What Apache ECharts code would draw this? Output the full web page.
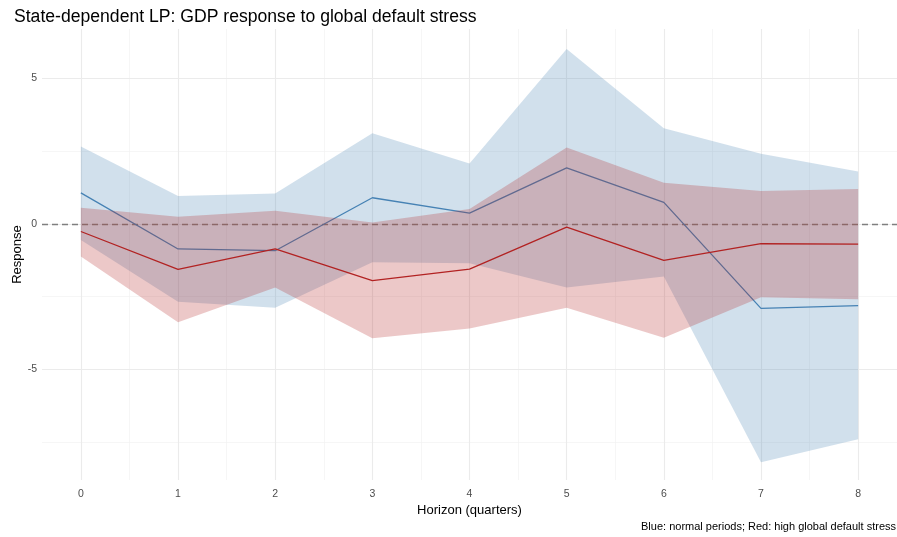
<!DOCTYPE html>
<html>
<head>
<meta charset="utf-8">
<script src="https://cdn.jsdelivr.net/npm/echarts@6/dist/echarts.min.js"></script>
<style>
  html, body { margin: 0; padding: 0; background: #fff; }
  #chart { width: 897px; height: 537px; }
</style>
</head>
<body>
<div id="chart"></div>
<script>
const horizons = [0, 1, 2, 3, 4, 5, 6, 7, 8];

// normal periods (blue)
const normalIrf = [1.07, -0.86, -0.92, 0.90, 0.37, 1.93, 0.74, -2.90, -2.81];
const normalLo = [-0.55, -2.67, -2.88, -1.32, -1.35, -2.18, -1.81, -8.19, -7.40];
const normalHi = [2.66, 0.96, 1.05, 3.12, 2.08, 6.01, 3.29, 2.41, 1.80];

// high global default stress (red)
const stressIrf = [-0.26, -1.56, -0.86, -1.95, -1.55, -0.11, -1.25, -0.68, -0.69];
const stressLo = [-1.12, -3.38, -2.18, -3.93, -3.59, -2.88, -3.91, -2.52, -2.59];
const stressHi = [0.56, 0.25, 0.45, 0.05, 0.51, 2.63, 1.42, 1.13, 1.20];

const xMajorTicks = [0, 1, 2, 3, 4, 5, 6, 7, 8];
const xMinorTicks = [0.5, 1.5, 2.5, 3.5, 4.5, 5.5, 6.5, 7.5];
const yMajorTicks = [-5, 0, 5];
const yMinorTicks = [-7.5, -2.5, 2.5];

const chart = echarts.init(document.getElementById('chart'));

function band(lo, hi, color, z) {
  return {
    type: 'custom',
    z: z,
    silent: true,
    data: horizons.map((h, i) => [h, lo[i], hi[i]]),
    encode: { x: 0, y: [1, 2] },
    renderItem: function (params, api) {
      if (params.dataIndex !== 0) return;
      const pts = [];
      horizons.forEach((h, i) => pts.push(api.coord([h, hi[i]])));
      for (let i = horizons.length - 1; i >= 0; i--) {
        pts.push(api.coord([horizons[i], lo[i]]));
      }
      return {
        type: 'polygon',
        shape: { points: pts },
        style: { fill: color, opacity: 0.25 }
      };
    }
  };
}

function line(values, color, z) {
  return {
    type: 'line',
    z: z,
    silent: true,
    data: horizons.map((h, i) => [h, values[i]]),
    showSymbol: false,
    lineStyle: { color: color, width: 1.3 }
  };
}

const majorStyle = { color: '#ebebeb', width: 1.1, type: 'solid' };
const minorStyle = { color: '#f2f2f2', width: 0.7, type: 'solid' };

const gridLines = []
  .concat(xMinorTicks.map(v => ({ xAxis: v, lineStyle: minorStyle })))
  .concat(yMinorTicks.map(v => ({ yAxis: v, lineStyle: minorStyle })))
  .concat(xMajorTicks.map(v => ({ xAxis: v, lineStyle: majorStyle })))
  .concat(yMajorTicks.map(v => ({ yAxis: v, lineStyle: majorStyle })));

const option = {
  animation: false,
  backgroundColor: '#fff',
  textStyle: { fontFamily: 'Liberation Sans, Arial, sans-serif' },
  title: {
    text: 'State-dependent LP: GDP response to global default stress',
    left: 9,
    top: 3,
    textStyle: { color: '#000', fontSize: 17.6, fontWeight: 'normal' }
  },
  grid: { left: 42, right: 0, top: 29, bottom: 57, outerBoundsMode: 'none', containLabel: false },
  xAxis: {
    type: 'value',
    min: -0.4,
    max: 8.4,
    splitNumber: 9,
    name: 'Horizon (quarters)',
    nameLocation: 'middle',
    nameGap: 24,
    nameMoveOverlap: false,
    nameTextStyle: { color: '#000', fontSize: 13 },
    axisLine: { show: false },
    axisTick: { show: false },
    splitLine: { show: false },
    axisLabel: {
      color: '#4d4d4d',
      fontSize: 10.5,
      margin: 9,
      showMinLabel: false,
      showMaxLabel: false,
      formatter: v => (xMajorTicks.includes(v) ? String(v) : '')
    }
  },
  yAxis: {
    type: 'value',
    min: -8.8,
    max: 6.7,
    splitNumber: 3,
    name: 'Response',
    nameLocation: 'middle',
    nameGap: 18,
    nameRotate: 90,
    nameMoveOverlap: false,
    nameTextStyle: { color: '#000', fontSize: 13 },
    axisLine: { show: false },
    axisTick: { show: false },
    splitLine: { show: false },
    axisLabel: {
      color: '#4d4d4d',
      fontSize: 10.5,
      margin: 5,
      showMinLabel: false,
      showMaxLabel: false,
      formatter: v => (yMajorTicks.includes(v) ? String(v) : '')
    }
  },
  graphic: [{
    type: 'text',
    right: 1,
    top: 521,
    style: {
      text: 'Blue: normal periods; Red: high global default stress',
      fill: '#000',
      fontSize: 11,
      fontFamily: 'Liberation Sans, Arial, sans-serif'
    }
  }],
  series: [
    {
      type: 'line',
      z: 0,
      silent: true,
      data: horizons.map((h, i) => [h, stressIrf[i]]),
      showSymbol: false,
      lineStyle: { opacity: 0 },
      markLine: {
        z: 0,
        silent: true,
        symbol: ['none', 'none'],
        label: { show: false },
        data: gridLines
      }
    },
    band(normalLo, normalHi, '#4682B4', 1),
    {
      type: 'line',
      z: 1.5,
      silent: true,
      data: horizons.map((h, i) => [h, 0]),
      showSymbol: false,
      lineStyle: { opacity: 0 },
      markLine: {
        z: 1.5,
        silent: true,
        symbol: ['none', 'none'],
        label: { show: false },
        data: [{ yAxis: 0, lineStyle: { color: '#7f7f7f', width: 1.3, type: [6, 4] } }]
      }
    },
    line(normalIrf, '#4682B4', 2),
    band(stressLo, stressHi, '#B22222', 3),
    line(stressIrf, '#B22222', 4)
  ]
};

chart.setOption(option);
</script>
</body>
</html>
